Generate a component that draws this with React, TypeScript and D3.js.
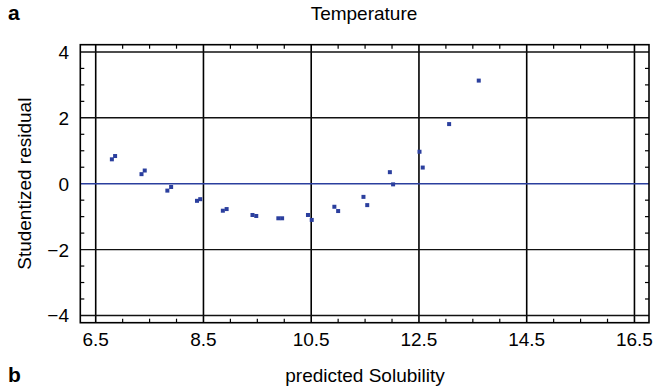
import React from "react";
import * as d3 from "d3";

const predicted = [6.80, 6.86, 7.35, 7.41, 7.83, 7.90, 8.38, 8.44, 8.86, 8.93, 9.41, 9.48, 9.89, 9.96, 10.44, 10.51, 10.93, 11.00, 11.47, 11.54, 11.96, 12.02, 12.51, 12.57, 13.06, 13.61];
const residual = [0.74, 0.84, 0.29, 0.40, -0.21, -0.10, -0.52, -0.47, -0.82, -0.77, -0.95, -0.98, -1.05, -1.05, -0.95, -1.10, -0.70, -0.83, -0.40, -0.65, 0.35, -0.02, 0.97, 0.49, 1.81, 3.13];
const xTicks = [6.5, 8.5, 10.5, 12.5, 14.5, 16.5];
const yTicks = [-4, -2, 0, 2, 4];
const title = "Temperature";
const xLabel = "predicted Solubility";
const yLabel = "Studentized residual";

const W = 653;
const H = 386;
const FONT = "'Liberation Sans', Arial, Helvetica, sans-serif";
const BLUE = "#2b3f9e";

export default function App() {
  const x = d3.scaleLinear().domain([6.214, 16.77]).range([80.3, 649]);
  const y = d3.scaleLinear().domain([-4.22, 4.22]).range([322.7, 44.7]);
  const [x0, x1] = x.range();
  const [y0, y1] = y.range();
  const minorX = d3.range(6.5, 16.51, 0.5).filter((v) => !xTicks.some((t) => Math.abs(t - v) < 1e-6));
  const minorY = d3.range(-4, 4.01, 0.5).filter((v) => !yTicks.some((t) => Math.abs(t - v) < 1e-6));
  const tl = 4;
  return (
    <svg width={W} height={H} style={{ position: "absolute", left: 0, top: 0, background: "#fff" }} fontFamily={FONT}>
      <rect x={0} y={0} width={W} height={H} fill="#fff" />
      {xTicks.map((t) => (
        <line key={"gx" + t} x1={x(t)} x2={x(t)} y1={y1} y2={y0} stroke="#000" strokeWidth={1.6} />
      ))}
      {yTicks.filter((t) => t !== 0).map((t) => (
        <line key={"gy" + t} x1={x0} x2={x1} y1={y(t)} y2={y(t)} stroke="#111" strokeWidth={1.4} />
      ))}
      {minorX.map((t) => (
        <g key={"mx" + t}>
          <line x1={x(t)} x2={x(t)} y1={y0} y2={y0 - tl} stroke="#000" strokeWidth={1.2} />
          <line x1={x(t)} x2={x(t)} y1={y1} y2={y1 + tl} stroke="#000" strokeWidth={1.2} />
        </g>
      ))}
      {minorY.map((t) => (
        <g key={"my" + t}>
          <line x1={x0} x2={x0 + tl} y1={y(t)} y2={y(t)} stroke="#000" strokeWidth={1.2} />
          <line x1={x1} x2={x1 - tl} y1={y(t)} y2={y(t)} stroke="#000" strokeWidth={1.2} />
        </g>
      ))}
      <line x1={x0} x2={x1} y1={y(0)} y2={y(0)} stroke={BLUE} strokeWidth={1.6} />
      <rect x={x0} y={y1} width={x1 - x0} height={y0 - y1} fill="none" stroke="#000" strokeWidth={1.6} />
      {predicted.map((p, i) => (
        <rect key={"p" + i} x={x(p) - 2} y={y(residual[i]) - 2} width={4} height={4} fill={BLUE} />
      ))}
      {xTicks.map((t) => (
        <text key={"tx" + t} x={x(t)} y={346} textAnchor="middle" fontSize={19} fill="#000">
          {t.toFixed(1)}
        </text>
      ))}
      {yTicks.map((t) => (
        <text key={"ty" + t} x={69} y={y(t) + 7} textAnchor="end" fontSize={19} fill="#000">
          {t < 0 ? "\u2212" + Math.abs(t) : String(t)}
        </text>
      ))}
      <text x={364} y={20} textAnchor="middle" fontSize={19} fill="#000">{title}</text>
      <text x={365} y={382} textAnchor="middle" fontSize={19} fill="#000">{xLabel}</text>
      <text transform={`translate(31,${(y0 + y1) / 2}) rotate(-90)`} textAnchor="middle" fontSize={19} fill="#000">{yLabel}</text>
      <text x={8} y={20} fontSize={21} fontWeight="bold" fill="#000">a</text>
      <text x={8} y={382} fontSize={21} fontWeight="bold" fill="#000">b</text>
    </svg>
  );
}
